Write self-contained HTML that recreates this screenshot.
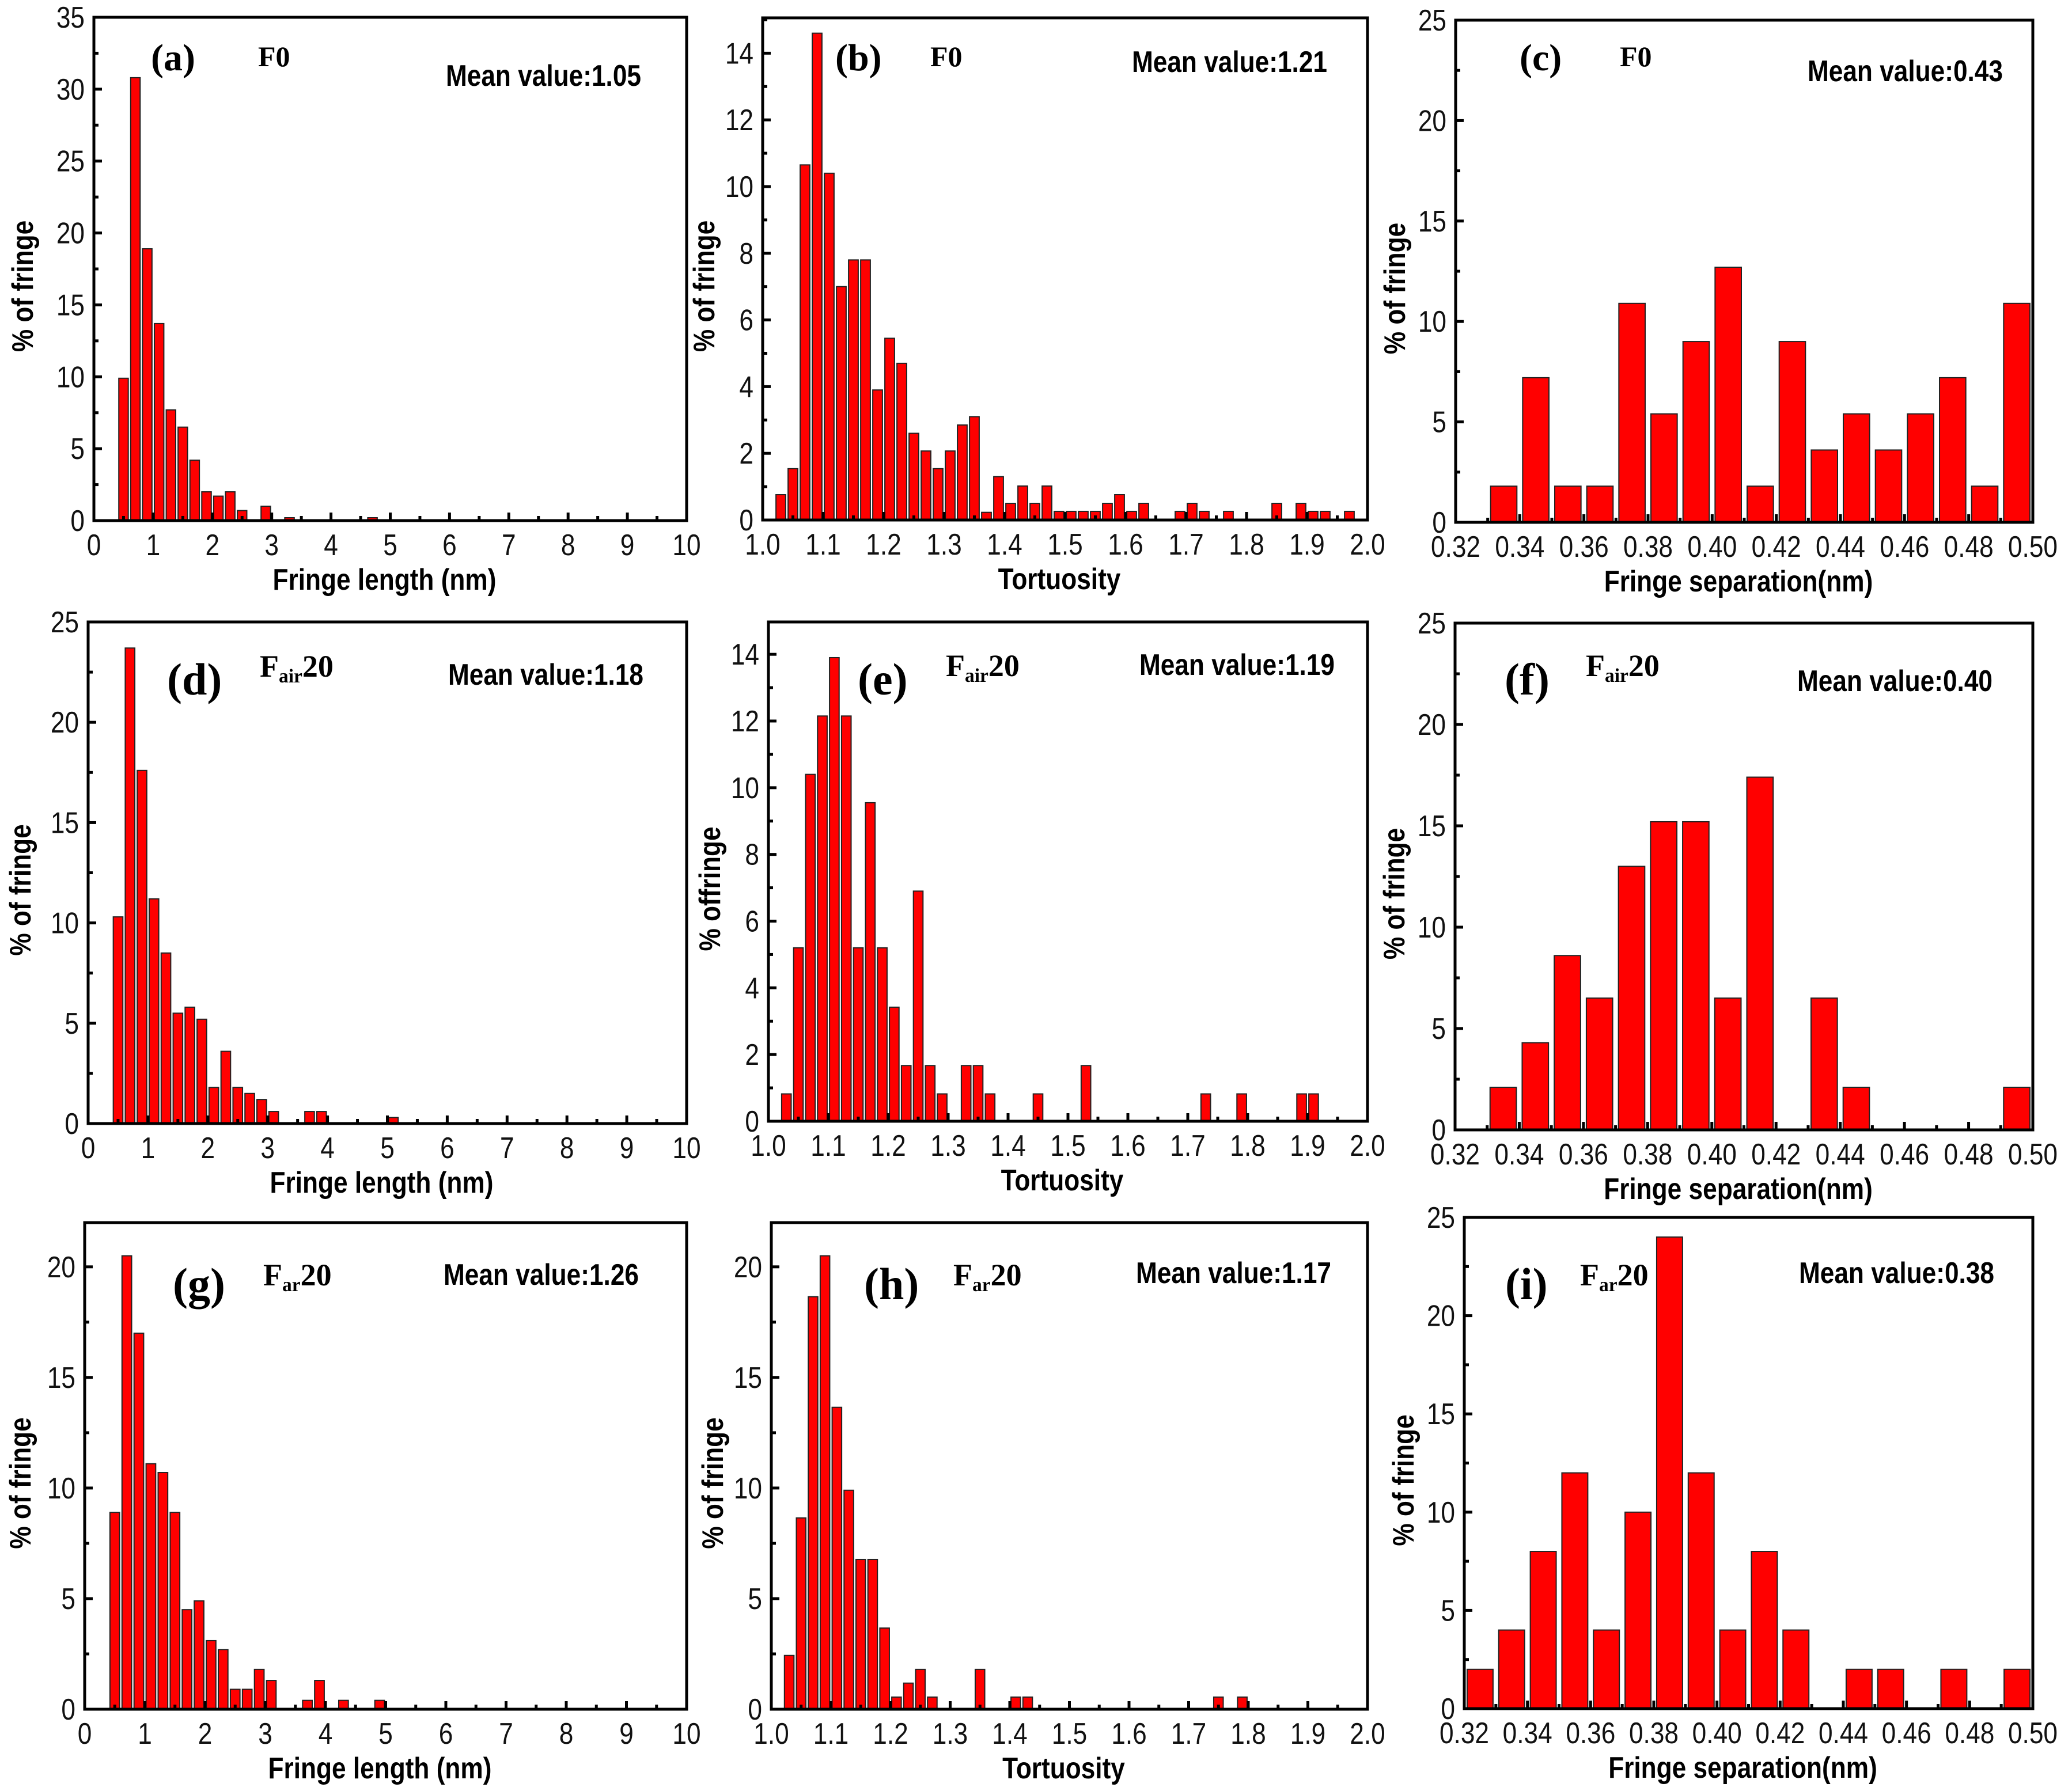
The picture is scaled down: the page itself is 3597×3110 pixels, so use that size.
<!DOCTYPE html>
<html><head><meta charset="utf-8"><style>
html,body{margin:0;padding:0;background:#fff;}
svg{display:block;}
.tick{font-family:"Liberation Sans Narrow","Liberation Sans",sans-serif;font-size:52px;fill:#111;}
.title{font-family:"Liberation Sans Narrow","Liberation Sans",sans-serif;font-size:52px;font-weight:bold;fill:#000;}
.plabel{font-family:"Liberation Serif",serif;font-weight:bold;fill:#000;}
</style></head><body>
<svg id="fig" xmlns="http://www.w3.org/2000/svg" width="3597" height="3110" viewBox="0 0 3597 3110">
<rect x="0" y="0" width="3597" height="3110" fill="#fff"/>
</svg>
<script>
// ---- data ----
const aCenters=[0.5,0.7,0.9,1.1,1.3,1.5,1.7,1.9,2.1,2.3,2.5,2.9,3.3,4.7];
const aValues=[9.9,30.8,18.9,13.7,7.7,6.5,4.2,2.0,1.7,2.0,0.7,1.0,0.2,0.2];
const bCenters=[1.03,1.05,1.07,1.09,1.11,1.13,1.15,1.17,1.19,1.21,1.23,1.25,1.27,1.29,1.31,1.33,1.35,1.37,1.39,1.41,1.43,1.45,1.47,1.49,1.51,1.53,1.55,1.57,1.59,1.61,1.63,1.69,1.71,1.73,1.77,1.85,1.89,1.91,1.93,1.97];
const bValues=[0.76,1.54,10.65,14.6,10.4,7.0,7.8,7.8,3.9,5.45,4.7,2.6,2.07,1.54,2.07,2.85,3.1,0.23,1.3,0.5,1.02,0.5,1.02,0.26,0.26,0.26,0.26,0.5,0.76,0.26,0.5,0.26,0.5,0.26,0.26,0.5,0.5,0.26,0.26,0.26];
const cCenters=[0.335,0.345,0.355,0.365,0.375,0.385,0.395,0.405,0.415,0.425,0.435,0.445,0.455,0.465,0.475,0.485,0.495];
const cValues=[1.8,7.2,1.8,1.8,10.9,5.4,9.0,12.7,1.8,9.0,3.6,5.4,3.6,5.4,7.2,1.8,10.9];
const dCenters=[0.5,0.7,0.9,1.1,1.3,1.5,1.7,1.9,2.1,2.3,2.5,2.7,2.9,3.1,3.7,3.9,5.1];
const dValues=[10.3,23.7,17.6,11.2,8.5,5.5,5.8,5.2,1.8,3.6,1.8,1.5,1.2,0.6,0.6,0.6,0.3];
const eCenters=[1.03,1.05,1.07,1.09,1.11,1.13,1.15,1.17,1.19,1.21,1.23,1.25,1.27,1.29,1.33,1.35,1.37,1.45,1.53,1.73,1.79,1.89,1.91];
const eValues=[0.82,5.2,10.4,12.15,13.9,12.15,5.2,9.55,5.2,3.42,1.67,6.9,1.67,0.82,1.67,1.67,0.82,0.82,1.67,0.82,0.82,0.82,0.82];
const fCenters=[0.335,0.345,0.355,0.365,0.375,0.385,0.395,0.405,0.415,0.435,0.445,0.495];
const fValues=[2.1,4.3,8.6,6.5,13.0,15.2,15.2,6.5,17.4,6.5,2.1,2.1];
const gCenters=[0.5,0.7,0.9,1.1,1.3,1.5,1.7,1.9,2.1,2.3,2.5,2.7,2.9,3.1,3.7,3.9,4.3,4.9];
const gValues=[8.9,20.5,17.0,11.1,10.7,8.9,4.5,4.9,3.1,2.7,0.9,0.9,1.8,1.3,0.4,1.3,0.4,0.4];
const hCenters=[1.03,1.05,1.07,1.09,1.11,1.13,1.15,1.17,1.19,1.21,1.23,1.25,1.27,1.35,1.41,1.43,1.75,1.79];
const hValues=[2.43,8.65,18.65,20.5,13.65,9.9,6.77,6.77,3.67,0.55,1.18,1.8,0.55,1.8,0.55,0.55,0.55,0.55];
const iCenters=[0.325,0.335,0.345,0.355,0.365,0.375,0.385,0.395,0.405,0.415,0.425,0.445,0.455,0.475,0.495];
const iValues=[2,4,8,12,4,10,24,12,4,8,4,2,2,2,2];
const lenTicks=["0","1","2","3","4","5","6","7","8","9","10"];
const tortTicks=["1.0","1.1","1.2","1.3","1.4","1.5","1.6","1.7","1.8","1.9","2.0"];
const sepTicks=["0.32","0.34","0.36","0.38","0.40","0.42","0.44","0.46","0.48","0.50"];

const NS="http://www.w3.org/2000/svg";
const svg=document.getElementById('fig');
function mk(tag,attrs,parent){const e=document.createElementNS(NS,tag);for(const k in attrs)e.setAttribute(k,attrs[k]);(parent||svg).appendChild(e);return e;}
function squeeze(t,f){try{const L=t.getComputedTextLength();if(L>0){t.setAttribute('textLength',L*f);t.setAttribute('lengthAdjust','spacingAndGlyphs');}}catch(e){}}

const kinds={
 len:{xmin:0,xmax:10,ticks:lenTicks,major:1,minor:0.5,bw:0.16,title:"Fringe length (nm)"},
 tort:{xmin:1,xmax:2,ticks:tortTicks,major:0.1,minor:0.05,bw:0.016,title:"Tortuosity"},
 sep:{xmin:0.32,xmax:0.5,ticks:sepTicks,major:0.02,minor:0.01,bw:0.0082,title:"Fringe separation(nm)"}
};

function panel(p){
  const k=kinds[p.kind];
  const g=mk('g',{});
  
  
  const X=v=>p.x0+(v-k.xmin)/(k.xmax-k.xmin)*(p.x1-p.x0);
  const Y=v=>p.y1-(v-0)/(p.ymax)*(p.y1-p.y0);
  p.centers.forEach((c,i)=>{
    const v=p.values[i];
    const r=mk('rect',{x:X(c-k.bw/2),y:Y(v),width:X(c+k.bw/2)-X(c-k.bw/2),height:Y(0)-Y(v),fill:'#ff0000',stroke:'#222','stroke-width':2},g);
    
    
  });
  const nMinor=Math.round((k.xmax-k.xmin)/k.minor);
  for(let j=0;j<=nMinor;j++){
    const v=k.xmin+j*k.minor, x=X(v), maj=(j%Math.round(k.major/k.minor)===0);
    mk('line',{x1:x,x2:x,y1:p.y1,y2:p.y1-(maj?14:8),stroke:'#000','stroke-width':5},g);
  }
  k.ticks.forEach((t,j)=>{
    const tx=mk('text',{x:X(k.xmin+j*k.major),y:p.y1+60,'text-anchor':'middle',class:'tick'},g);
    tx.textContent=t;
    
    
    squeeze(tx,0.85);
  });
  for(let v=0;v<=p.ymax+1e-9;v+=p.ystep/2){
    const y=Y(v), maj=Math.abs(v/p.ystep-Math.round(v/p.ystep))<1e-6;
    mk('line',{x1:p.x0,x2:p.x0+(maj?14:8),y1:y,y2:y,stroke:'#000','stroke-width':5},g);
    if(maj){
      const ty=mk('text',{x:p.x0-16,y:y+18,'text-anchor':'end',class:'tick'},g);
      ty.textContent=String(Math.round(v));
      
      
      squeeze(ty,0.85);
    }
  }
  const fr=mk('rect',{x:p.x0,y:p.y0,width:p.x1-p.x0,height:p.y1-p.y0,fill:'none',stroke:'#000','stroke-width':5},g);
  
  
  const xt=mk('text',{x:(p.x0+p.x1)/2-10,y:p.y1+120,'text-anchor':'middle',class:'title'},g);
  xt.textContent=k.title;
  
  
  squeeze(xt,0.85);
  const yx=p.x0-p.ytOff, yy=(p.y0+p.y1)/2+30;
  const yt=mk('text',{x:yx,y:yy,'text-anchor':'middle',class:'title',transform:'rotate(-90 '+yx+' '+yy+')'},g);
  yt.textContent=p.ytitle||"% of fringe";
  
  
  squeeze(yt,0.85);
  const pl=mk('text',{x:p.lx,y:p.ly,class:'plabel','font-size':p.lfs},g);
  pl.textContent='('+p.id+')';
  
  
  const sn=mk('text',{x:p.sx,y:p.sy,class:'plabel','font-size':p.sfs},g);
  
  
  if(p.sub){
    const t1=mk('tspan',{},sn);t1.textContent='F';
    const t2=mk('tspan',{'font-size':p.sfs*0.62,dy:10},sn);t2.textContent=p.sub;
    const t3=mk('tspan',{dy:-10},sn);t3.textContent='20';
  } else sn.textContent='F0';
  const mv=mk('text',{x:p.mx,y:p.my,'text-anchor':'end',class:'title'},g);
  mv.textContent='Mean value:'+p.mean;
  
  
  squeeze(mv,0.85);
}

panel({id:'a',kind:'len',x0:163,x1:1192,y0:30,y1:904,ymax:35,ystep:5,centers:aCenters,values:aValues,ytOff:106,lx:262,ly:122,lfs:66,sx:448,sy:115,sfs:50,mx:1113,my:149,mean:'1.05'});
panel({id:'b',kind:'tort',x0:1324,x1:2374,y0:31,y1:903,ymax:15.06,ystep:2,centers:bCenters,values:bValues,ytOff:84,lx:1450,ly:122,lfs:66,sx:1615,sy:115,sfs:50,mx:2304,my:125,mean:'1.21'});
panel({id:'c',kind:'sep',x0:2527,x1:3529,y0:35,y1:907,ymax:25,ystep:5,centers:cCenters,values:cValues,ytOff:88,lx:2638,ly:122,lfs:66,sx:2812,sy:115,sfs:50,mx:3477,my:141,mean:'0.43'});
panel({id:'d',kind:'len',x0:153,x1:1192,y0:1080,y1:1951,ymax:25,ystep:5,centers:dCenters,values:dValues,ytOff:100,lx:290,ly:1206,lfs:78,sx:451,sy:1175,sfs:54,sub:'air',mx:1117,my:1189,mean:'1.18'});
panel({id:'e',kind:'tort',x0:1334,x1:2374,y0:1080,y1:1947,ymax:14.97,ystep:2,centers:eCenters,values:eValues,ytOff:84,ytitle:'% offringe',lx:1489,ly:1206,lfs:78,sx:1642,sy:1174,sfs:54,sub:'air',mx:2317,my:1172,mean:'1.19'});
panel({id:'f',kind:'sep',x0:2526,x1:3529,y0:1082,y1:1962,ymax:25,ystep:5,centers:fCenters,values:fValues,ytOff:88,lx:2612,ly:1206,lfs:78,sx:2753,sy:1174,sfs:54,sub:'air',mx:3459,my:1200,mean:'0.40'});
panel({id:'g',kind:'len',x0:147,x1:1192,y0:2123,y1:2968,ymax:22,ystep:5,centers:gCenters,values:gValues,ytOff:94,lx:300,ly:2256,lfs:78,sx:457,sy:2232,sfs:54,sub:'ar',mx:1109,my:2231,mean:'1.26'});
panel({id:'h',kind:'tort',x0:1339,x1:2374,y0:2123,y1:2968,ymax:22,ystep:5,centers:hCenters,values:hValues,ytOff:84,lx:1500,ly:2256,lfs:78,sx:1655,sy:2232,sfs:54,sub:'ar',mx:2311,my:2228,mean:'1.17'});
panel({id:'i',kind:'sep',x0:2542,x1:3529,y0:2114,y1:2967,ymax:25,ystep:5,centers:iCenters,values:iValues,ytOff:88,lx:2613,ly:2256,lfs:78,sx:2743,sy:2232,sfs:54,sub:'ar',mx:3462,my:2228,mean:'0.38'});
</script>
</body></html>
